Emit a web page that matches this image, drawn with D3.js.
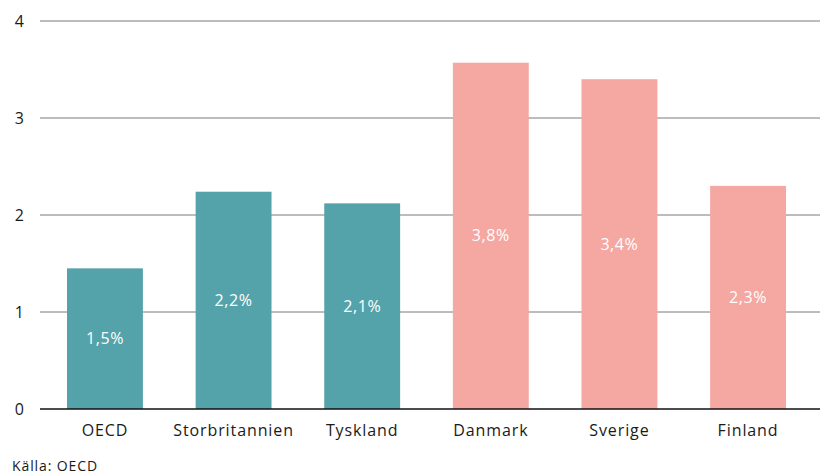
<!DOCTYPE html>
<html>
<head>
<meta charset="utf-8">
<script src="https://cdn.jsdelivr.net/npm/d3@7"></script>
<style>
  body { margin: 0; background: #fff; }
  svg text { font-family: "Open Sans", "Noto Sans", sans-serif; }
</style>
</head>
<body>
<div id="chart"></div>
<script>
// data
var countries = ["OECD", "Storbritannien", "Tyskland", "Danmark", "Sverige", "Finland"];
var values = [1.45, 2.24, 2.12, 3.57, 3.40, 2.30];
var labels = ["1,5%", "2,2%", "2,1%", "3,8%", "3,4%", "2,3%"];
var groups = ["a", "a", "a", "b", "b", "b"];
var yTicks = [0, 1, 2, 3, 4];

var width = 823, height = 475;
var colors = { a: "#54a3aa", b: "#f5a7a2" };

var svg = d3.select("#chart").append("svg")
    .attr("width", width).attr("height", height);

var x = d3.scaleBand()
    .domain(countries)
    .range([40, 813])
    .paddingInner(0.41)
    .paddingOuter(0.21);

var y = d3.scaleLinear().domain([0, 4]).range([409, 21]);

// gridlines
svg.append("g").selectAll("line")
    .data(yTicks.filter(function (d) { return d > 0; }))
    .join("line")
    .attr("x1", 40).attr("x2", 820)
    .attr("y1", function (d) { return y(d); })
    .attr("y2", function (d) { return y(d); })
    .attr("stroke", "#7a7a7a").attr("stroke-width", 1);

// y tick labels
svg.append("g").selectAll("text")
    .data(yTicks)
    .join("text")
    .attr("x", 24)
    .attr("y", function (d) { return y(d); })
    .attr("dy", "0.35em")
    .attr("text-anchor", "end")
    .attr("font-size", 16)
    .attr("fill", "#1a1a1a")
    .text(function (d) { return d; });

// bars
var data = countries.map(function (c, i) {
    return { name: c, value: values[i], label: labels[i], group: groups[i] };
});

svg.append("g").selectAll("rect")
    .data(data)
    .join("rect")
    .attr("x", function (d) { return x(d.name); })
    .attr("width", x.bandwidth())
    .attr("y", function (d) { return y(d.value); })
    .attr("height", function (d) { return y(0) - y(d.value); })
    .attr("fill", function (d) { return colors[d.group]; });

// value labels in the middle of each bar
svg.append("g").selectAll("text")
    .data(data)
    .join("text")
    .attr("x", function (d) { return x(d.name) + x.bandwidth() / 2; })
    .attr("y", function (d) { return (y(d.value) + y(0)) / 2; })
    .attr("dy", "0.35em")
    .attr("text-anchor", "middle")
    .attr("font-size", 16)
    .attr("letter-spacing", 0.6)
    .attr("fill", "#fff")
    .text(function (d) { return d.label; });

// baseline
svg.append("line")
    .attr("x1", 40).attr("x2", 820)
    .attr("y1", y(0)).attr("y2", y(0))
    .attr("stroke", "#111").attr("stroke-width", 1.5);

// category labels
var xAxis = d3.axisBottom(x).tickSize(0).tickPadding(0);
var gx = svg.append("g")
    .attr("transform", "translate(0," + y(0) + ")")
    .call(xAxis);
gx.select(".domain").remove();
gx.selectAll("text")
    .attr("y", 21)
    .attr("dy", "0.35em")
    .attr("font-size", 16)
    .attr("letter-spacing", 0.9)
    .attr("font-family", "'Open Sans', 'Noto Sans', sans-serif")
    .attr("fill", "#1a1a1a");

// source
svg.append("text")
    .attr("x", 12).attr("y", 471)
    .attr("font-size", 14)
    .attr("letter-spacing", 0.9)
    .attr("fill", "#1a1a1a")
    .text("Källa: OECD");
</script>
</body>
</html>
